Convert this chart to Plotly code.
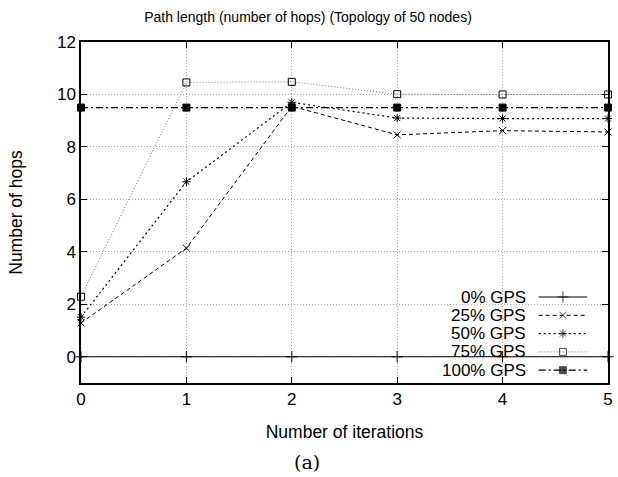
import plotly.graph_objects as go

iterations = [0, 1, 2, 3, 4, 5]
gps0 = [0, 0, 0, 0, 0, 0]
gps25 = [1.29, 4.14, 9.55, 8.46, 8.62, 8.57]
gps50 = [1.51, 6.67, 9.70, 9.10, 9.08, 9.08]
gps75 = [2.29, 10.46, 10.48, 10.01, 10.0, 10.0]
gps100 = [9.5, 9.5, 9.5, 9.5, 9.5, 9.5]
series_names = ["0% GPS", "25% GPS", "50% GPS", "75% GPS", "100% GPS"]
x_ticks = [0, 1, 2, 3, 4, 5]
y_ticks = [0, 2, 4, 6, 8, 10, 12]

W, H = 618, 477
L, R, T, B = 81, 613, 42, 383

styles = [
    dict(dash="solid", color="black", width=1.2, symbol="cross-thin-open", msize=8),
    dict(dash="4px,3px", color="black", width=1.0, symbol="x-thin-open", msize=7),
    dict(dash="2px,3px", color="black", width=1.2, symbol="asterisk-open", msize=7),
    dict(dash="1px,2px", color="#777777", width=1.0, symbol="square-open", msize=7),
    dict(dash="7px,3px,2px,3px", color="black", width=1.2, symbol="square", msize=7),
]
data = [gps0, gps25, gps50, gps75, gps100]

FONT = "Liberation Sans, Arial, sans-serif"
fig = go.Figure()
for name, ys, st in zip(series_names, data, styles):
    fig.add_trace(go.Scatter(
        x=iterations, y=ys, mode="lines+markers", name=name, showlegend=False,
        line=dict(color=st["color"], dash=st["dash"], width=st["width"]),
        marker=dict(symbol=st["symbol"], size=st["msize"], color="black",
                    line=dict(color="black", width=1)),
        cliponaxis=False,
    ))

def px_x(p):
    return (p - L) / (R - L)

def px_y(p):
    return (B - p) / (B - T)

leg_y0 = 297
leg_dy = 18.3
text_right = 532
samp_x0, samp_x1 = 543, 592
for i, (name, st) in enumerate(zip(series_names, styles)):
    yy = leg_y0 + i * leg_dy
    fig.add_annotation(x=px_x(text_right), y=px_y(yy), xref="paper", yref="paper",
                       text=name, showarrow=False, xanchor="right", yanchor="middle",
                       font=dict(family=FONT, size=17, color="black"))
    fig.add_trace(go.Scatter(
        x=[px_x(samp_x0), px_x((samp_x0 + samp_x1) / 2), px_x(samp_x1)],
        y=[px_y(yy)] * 3, xaxis="x2", yaxis="y2", mode="lines+markers",
        showlegend=False, hoverinfo="skip", cliponaxis=False,
        line=dict(color=st["color"], dash=st["dash"], width=st["width"]),
        marker=dict(symbol=st["symbol"], size=[0, st["msize"], 0], color="black",
                    line=dict(color="black", width=1)),
    ))

axis_common = dict(
    showline=True, linecolor="black", linewidth=1.5, mirror="ticks",
    ticks="inside", ticklen=6, tickcolor="black",
    showgrid=True, gridcolor="#aaaaaa", griddash="1px,2px", gridwidth=1,
    zeroline=False, tickfont=dict(family=FONT, size=17, color="black"),
)

fig.update_layout(
    width=W, height=H,
    margin=dict(l=L, r=W - R, t=T, b=H - B, pad=0),
    paper_bgcolor="white", plot_bgcolor="white",
    title=dict(text="Path length (number of hops) (Topology of 50 nodes)",
               x=308 / W, xanchor="center", y=1 - 17 / H, yanchor="middle",
               font=dict(family=FONT, size=14, color="black")),
    xaxis=dict(range=[0, 5], tickvals=x_ticks, ticktext=[str(v) for v in x_ticks],
               title=dict(text="Number of iterations", standoff=18,
                          font=dict(family=FONT, size=17.5, color="black")),
               **axis_common),
    yaxis=dict(range=[-1, 12], tickvals=y_ticks, ticktext=[str(v) for v in y_ticks],
               title=dict(text="Number of hops", standoff=30,
                          font=dict(family=FONT, size=17.5, color="black")),
               **axis_common),
    xaxis2=dict(range=[0, 1], overlaying="x", visible=False, fixedrange=True),
    yaxis2=dict(range=[0, 1], overlaying="y", visible=False, fixedrange=True),
)

fig.add_annotation(x=px_x(309), y=px_y(462), xref="paper", yref="paper",
                   text="(a)", showarrow=False, xanchor="center", yanchor="middle",
                   font=dict(family="DejaVu Serif, Liberation Serif, serif", size=19, color="black"))

fig.write_html("out.html")
